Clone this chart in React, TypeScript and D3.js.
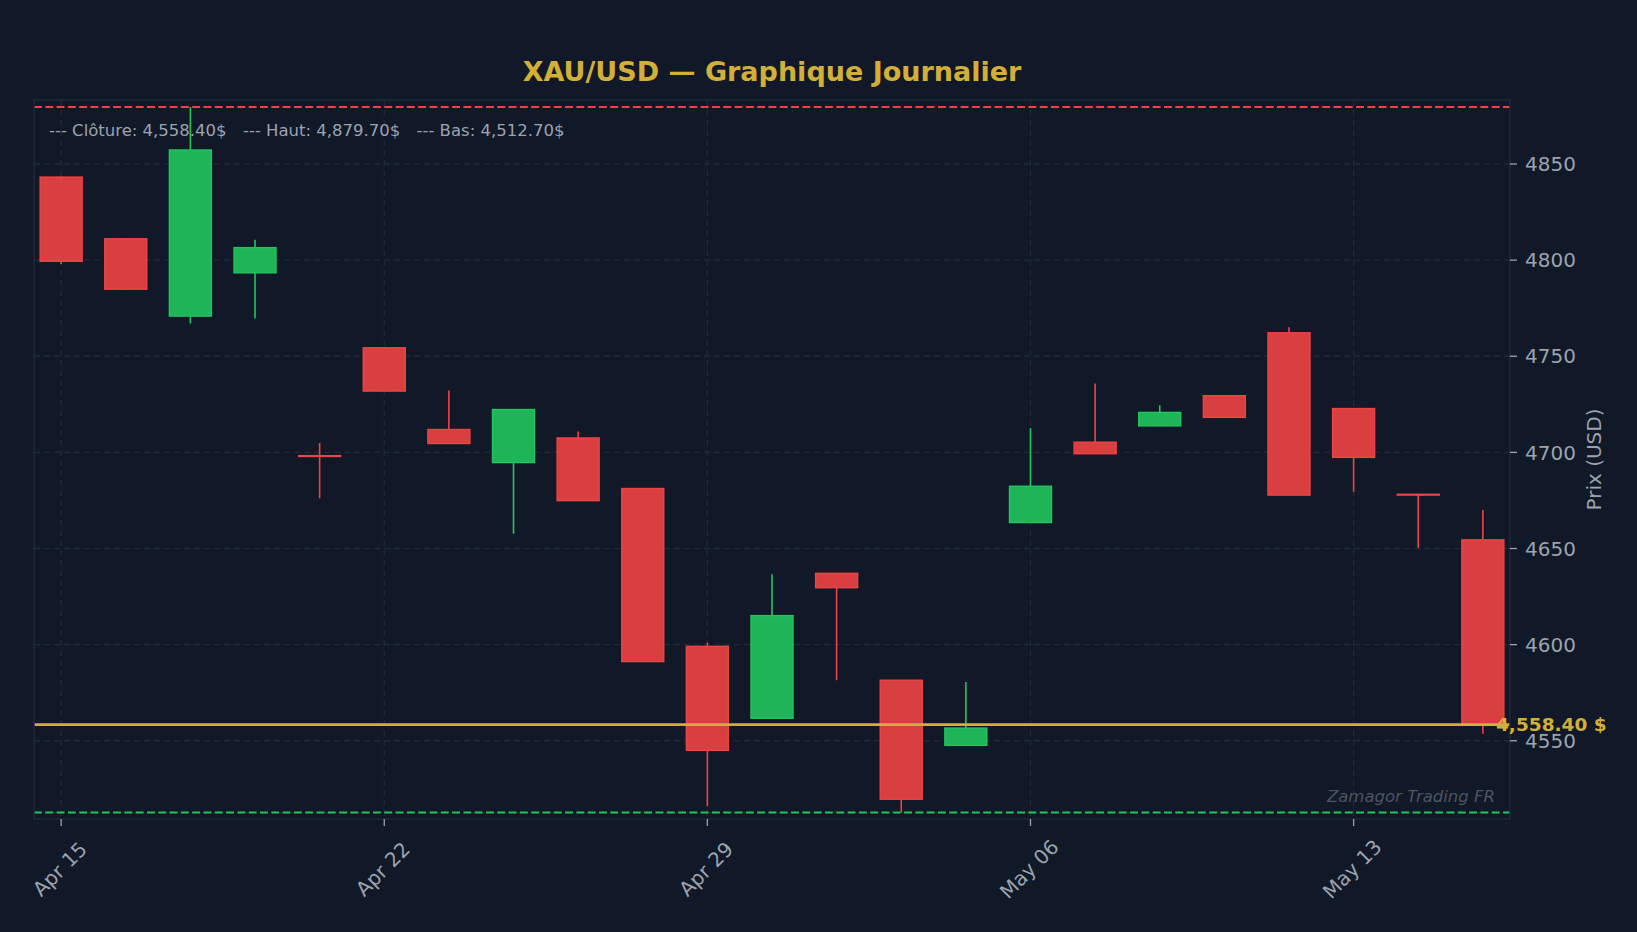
import React from 'react'
import * as d3 from 'd3'

// daily candles (business days)
const dates = [
    '2026-04-15', '2026-04-16', '2026-04-17', '2026-04-20', '2026-04-21',
    '2026-04-22', '2026-04-23', '2026-04-24', '2026-04-27', '2026-04-28',
    '2026-04-29', '2026-04-30', '2026-05-01', '2026-05-04', '2026-05-05',
    '2026-05-06', '2026-05-07', '2026-05-08', '2026-05-11', '2026-05-12',
    '2026-05-13', '2026-05-14', '2026-05-15',
]
const opens = [
    4843.2, 4811.1, 4770.9, 4793.4, 4698.3, 4754.4, 4711.9, 4694.7, 4707.5, 4681.2,
    4599.1, 4561.7, 4637.1, 4581.5, 4547.6, 4663.5, 4705.3, 4713.8, 4729.5, 4762.2,
    4722.8, 4678.2, 4654.5,
]
const highs = [
    4843.5, 4811.3, 4879.7, 4810.6, 4704.9, 4754.6, 4732.2, 4722.4, 4710.9, 4681.4,
    4601.1, 4636.6, 4637.3, 4581.7, 4580.5, 4712.6, 4735.8, 4724.5, 4729.7, 4765.1,
    4723.0, 4678.3, 4670.0,
]
const lows = [
    4798.0, 4784.7, 4767.0, 4769.7, 4676.1, 4731.7, 4704.4, 4657.7, 4674.7, 4591.0,
    4515.9, 4561.5, 4581.5, 4512.7, 4547.4, 4663.3, 4699.1, 4713.6, 4718.0, 4677.6,
    4679.5, 4650.4, 4553.7,
]
const closes = [
    4799.4, 4784.9, 4857.3, 4806.5, 4697.9, 4731.9, 4704.6, 4722.3, 4674.9, 4591.2,
    4545.0, 4615.1, 4629.6, 4519.6, 4556.6, 4682.4, 4699.3, 4720.8, 4718.2, 4677.8,
    4697.4, 4678.0, 4558.4,
]
const yTicks = [4550, 4600, 4650, 4700, 4750, 4800, 4850]
const xTickEvery = 5

const lastClose = closes[closes.length - 1]
const maxHigh = d3.max(highs) as number
const minLow = d3.min(lows) as number

const BG = '#111827'
const GRID = '#1f2937'
const UP = '#22c55e'
const DOWN = '#ef4444'
const GOLD = '#d4af37'
const TXT = '#9ca3af'
const FONT = 'DejaVu Sans, sans-serif'

const W = 1637, H = 932
const margin = { left: 34, right: 127, top: 100, bottom: 113 }

const App = () => {
    const x = d3.scaleLinear()
        .domain([-0.42, dates.length - 1 + 0.42])
        .range([margin.left, W - margin.right])
    const y = d3.scaleLinear()
        .domain([4509.3, 4883.3])
        .range([H - margin.bottom, margin.top])

    const step = x(1) - x(0)
    const bw = step * 0.65
    const fmt = d3.timeFormat('%b %d')
    const parse = d3.timeParse('%Y-%m-%d')
    const money = d3.format(',.2f')

    const x0 = margin.left, x1 = W - margin.right
    const y0 = margin.top, y1 = H - margin.bottom

    const candles = dates.map((d, i) => ({
        i, o: opens[i], h: highs[i], l: lows[i], c: closes[i],
    }))

    return (
        <div style={{ position: 'absolute', left: 0, top: 0, width: W, height: H, background: BG }}>
            <svg width={W} height={H} style={{ display: 'block' }} fontFamily={FONT}>
                <rect width={W} height={H} fill={BG} />

                {/* grid */}
                {yTicks.map(t => (
                    <line key={'gy' + t} x1={x0} x2={x1} y1={y(t)} y2={y(t)}
                        stroke={GRID} strokeWidth={1.3} strokeDasharray="6,4" />
                ))}
                {dates.map((d, i) => i % xTickEvery === 0 ? (
                    <line key={'gx' + i} x1={x(i)} x2={x(i)} y1={y0} y2={y1}
                        stroke={GRID} strokeWidth={1.3} strokeDasharray="6,4" />
                ) : null)}

                {/* candles: wick outside the body only */}
                {candles.map(k => {
                    const col = k.c >= k.o ? UP : DOWN
                    const top = y(Math.max(k.o, k.c))
                    const bot = y(Math.min(k.o, k.c))
                    return (
                        <g key={'c' + k.i}>
                            <line x1={x(k.i)} x2={x(k.i)} y1={y(k.h)} y2={top} stroke={col} strokeWidth={1.6} />
                            <line x1={x(k.i)} x2={x(k.i)} y1={bot} y2={y(k.l)} stroke={col} strokeWidth={1.6} />
                            <rect x={x(k.i) - bw / 2} y={top} width={bw} height={Math.max(bot - top, 0.8)}
                                fill={col} fillOpacity={0.9} stroke={col} strokeWidth={1.4} />
                        </g>
                    )
                })}

                {/* high / low reference lines */}
                <line x1={x0} x2={x1} y1={y(maxHigh)} y2={y(maxHigh)} stroke={DOWN} strokeWidth={2} strokeDasharray="7.9,3.4" />
                <line x1={x0} x2={x1} y1={y(minLow)} y2={y(minLow)} stroke={UP} strokeWidth={2} strokeDasharray="7.9,3.4" />

                {/* last close */}
                <line x1={x0} x2={x1} y1={y(lastClose)} y2={y(lastClose)} stroke={GOLD} strokeWidth={2.8} />

                {/* frame */}
                <rect x={x0} y={y0} width={x1 - x0} height={y1 - y0} fill="none" stroke={GRID} strokeWidth={1.5} />

                {/* legend */}
                <text y={136} fontSize={16.5} fill={TXT}>
                    <tspan x={49}>{`--- Clôture: ${money(lastClose)}$`}</tspan>
                    <tspan x={243}>{`--- Haut: ${money(maxHigh)}$`}</tspan>
                    <tspan x={416.5}>{`--- Bas: ${money(minLow)}$`}</tspan>
                </text>

                {/* y axis (right) */}
                {yTicks.map(t => (
                    <g key={'yt' + t}>
                        <line x1={x1} x2={x1 + 7} y1={y(t)} y2={y(t)} stroke={TXT} strokeWidth={1.3} />
                        <text x={x1 + 15} y={y(t)} dy="0.36em" fontSize={20} fill={TXT}>{t}</text>
                    </g>
                ))}
                <text transform={`translate(1601,${(y0 + y1) / 2}) rotate(-90)`} textAnchor="middle"
                    fontSize={20} fill={TXT}>Prix (USD)</text>

                {/* x axis */}
                {dates.map((d, i) => i % xTickEvery === 0 ? (
                    <g key={'xt' + i}>
                        <line x1={x(i)} x2={x(i)} y1={y1} y2={y1 + 7} stroke={TXT} strokeWidth={1.3} />
                        <text transform={`translate(${x(i) - 1.5},${y1 + 50}) rotate(-45)`} textAnchor="middle"
                            dy="0.36em" fontSize={20} fill={TXT}>{fmt(parse(d) as Date)}</text>
                    </g>
                ) : null)}

                {/* close label */}
                <text x={x1 - 14} y={y(lastClose)} dy="0.36em" fontSize={18.5} fontWeight="bold" fill={GOLD}>
                    {`${money(lastClose)} $`}
                </text>

                {/* watermark */}
                <text x={x1 - 15} y={802} textAnchor="end" fontSize={16.5} fontStyle="italic" fill="#4b5563">
                    Zamagor Trading FR
                </text>

                {/* title */}
                <text x={(x0 + x1) / 2} y={81} textAnchor="middle" fontSize={27} fontWeight="bold" fill={GOLD}>
                    XAU/USD — Graphique Journalier
                </text>
            </svg>
        </div>
    )
}

export default App
